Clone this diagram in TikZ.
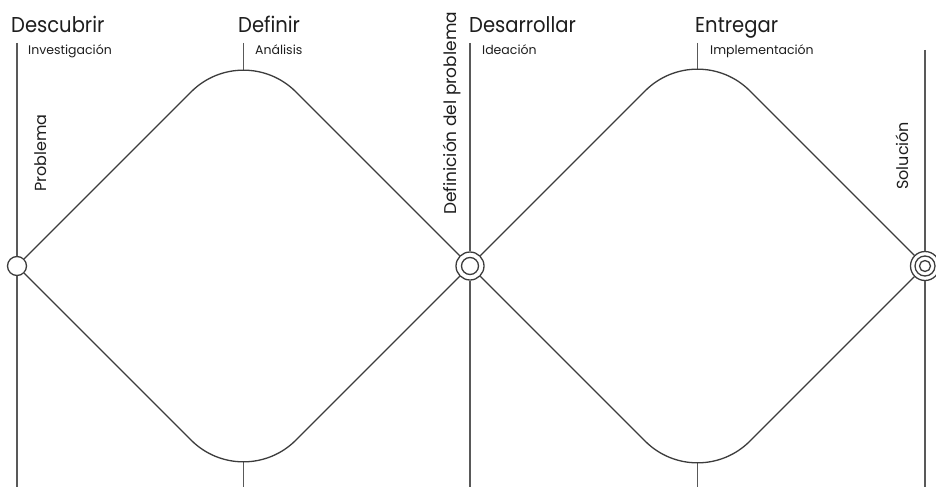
\documentclass[tikz,border=0pt]{standalone}
\usepackage{fontspec}
\setmainfont{Poppins}
\definecolor{ink}{HTML}{1E1E1E}
\definecolor{linegray}{HTML}{3C3C3C}
\begin{document}
\begin{tikzpicture}[x=1pt,y=-1pt,
  edge/.style={draw=linegray, line width=1.3pt},
  vline/.style={draw=linegray!85, line width=1.5pt},
  ring/.style={circle, draw=linegray, line width=1.3pt, fill=white, inner sep=0pt},
  title/.style={text=ink, font=\fontsize{21.5}{24}\selectfont, anchor=base west, inner sep=0pt, xscale=0.91},
  sub/.style={text=ink, font=\fontsize{12.5}{14}\selectfont, anchor=base west, inner sep=0pt},
  side/.style={text=ink, font=\fontsize{16}{18}\selectfont, anchor=base west, inner sep=0pt, rotate=90}
]
\useasboundingbox[fill=white] (0,0) rectangle (936,487);

% circles
\node[ring, minimum size=19pt] (c1) at (17,266) {};
\node[ring, minimum size=28pt] (c2) at (470,266) {};
\node[ring, minimum size=29pt] (c3) at (925,266) {};

% diamond corner coordinates
\coordinate (T1) at (243.5,39.5);
\coordinate (B1) at (243.5,492.5);
\coordinate (T2) at (697.5,38.5);
\coordinate (B2) at (697.5,493.5);
\coordinate (A1) at (243.5,70.5);
\coordinate (D1) at (243.5,461.5);
\coordinate (A2) at (697.5,69.5);
\coordinate (D2) at (697.5,462.5);

% vertical line ends
\coordinate (v1t) at (17,43);
\coordinate (v1b) at (17,487);
\coordinate (v2t) at (470,43);
\coordinate (v2b) at (470,487);
\coordinate (v3t) at (925,50);
\coordinate (v3b) at (925,487);
\coordinate (k1t) at (243.5,43);
\coordinate (k1b) at (243.5,487);
\coordinate (k2t) at (697.5,43);
\coordinate (k2b) at (697.5,487);

% vertical lines
\draw[vline] (v1t) -- (c1);
\draw[vline] (c1) -- (v1b);
\draw[vline] (v2t) -- (c2);
\draw[vline] (c2) -- (v2b);
\draw[vline] (v3t) -- (c3);
\draw[vline] (c3) -- (v3b);
\draw[vline] (k1t) -- (A1);
\draw[vline] (D1) -- (k1b);
\draw[vline] (k2t) -- (A2);
\draw[vline] (D2) -- (k2b);

% diamonds
\draw[edge, rounded corners=74pt] (c1) -- (T1) -- (c2);
\draw[edge, rounded corners=74pt] (c1) -- (B1) -- (c2);
\draw[edge, rounded corners=74pt] (c2) -- (T2) -- (c3);
\draw[edge, rounded corners=74pt] (c2) -- (B2) -- (c3);

% inner rings
\node[ring, minimum size=17pt] (c2i) at (c2.center) {};
\node[ring, minimum size=20pt] (c3m) at (c3.center) {};
\node[ring, minimum size=11pt] (c3i) at (c3.center) {};

% titles
\node[title] (t1) at (11,33) {Descubrir};
\node[sub] (s1) at (28,55) {Investigación};
\node[title] (t2) at (238,33) {Definir};
\node[sub] (s2) at (255,55) {Análisis};
\node[title] (t3) at (469,33) {Desarrollar};
\node[sub] (s3) at (482,55) {Ideación};
\node[title] (t4) at (695,33) {Entregar};
\node[sub] (s4) at (710,55) {Implementación};

% side labels
\node[side] (p1) at (46,192) {Problema};
\node[side, font=\fontsize{17}{19}\selectfont] (p2) at (456,215) {Definición del problema};
\node[side] (p3) at (908,190) {Solución};
\end{tikzpicture}
\end{document}
